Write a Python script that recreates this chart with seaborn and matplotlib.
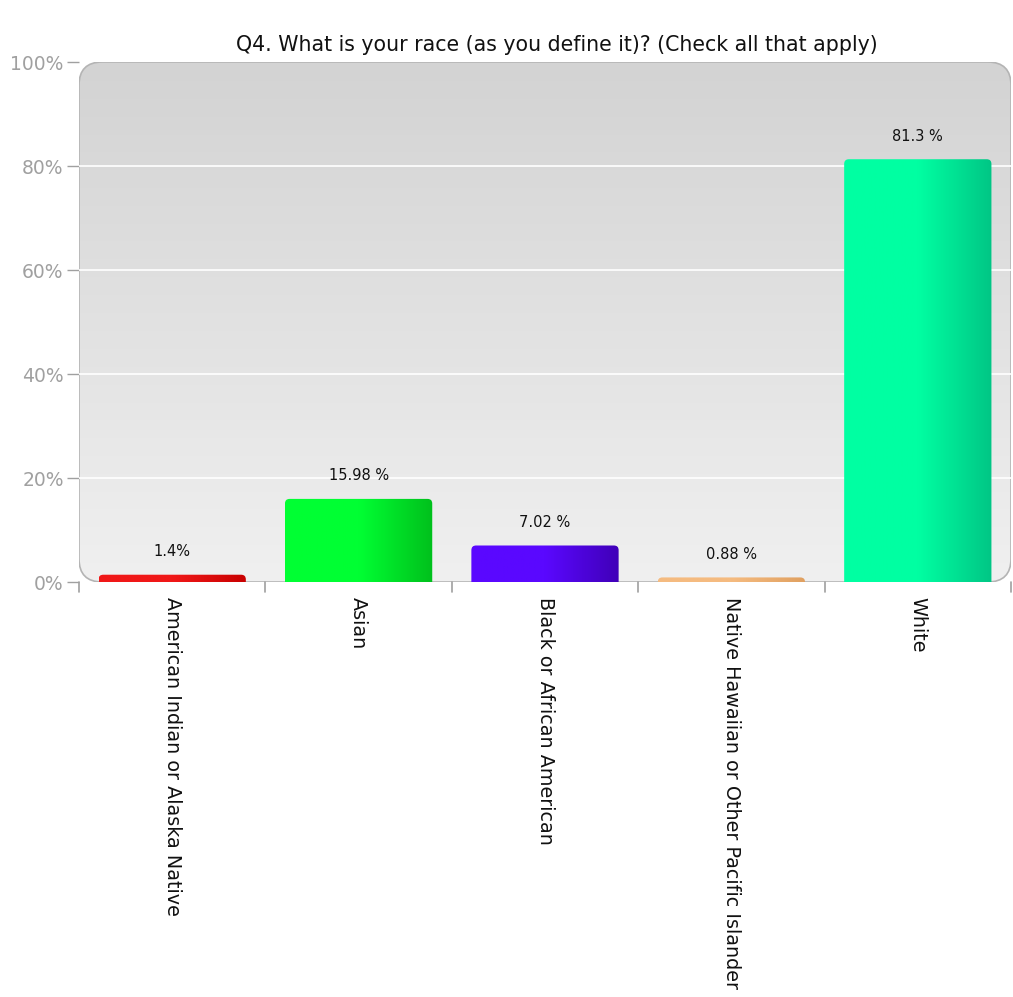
import numpy as np
import matplotlib
matplotlib.use("Agg")
import matplotlib.pyplot as plt
import seaborn as sns
from matplotlib.colors import LinearSegmentedColormap
from matplotlib.patches import FancyBboxPatch

categories = ["American Indian or Alaska Native", "Asian", "Black or African American",
              "Native Hawaiian or Other Pacific Islander", "White"]
values = [1.4, 15.98, 7.02, 0.88, 81.3]
value_labels = ["1.4%", "15.98 %", "7.02 %", "0.88 %", "81.3 %"]
bar_light = ["#f01818", "#00ff33", "#5a08ff", "#f5bb80", "#00ffa2"]
bar_dark = ["#c80000", "#00c01c", "#4000b8", "#e0a060", "#00c685"]
y_ticks = [0, 20, 40, 60, 80, 100]

sns.set_theme(style="white")
plt.rcParams["font.family"] = ["DejaVu Sans"]

fig = plt.figure(figsize=(10.13, 9.97), dpi=100)
ax = fig.add_axes([79 / 1013, 415 / 997, 932 / 1013, 520 / 997])
ax.set_facecolor("none")

sns.barplot(x=categories, y=values, ax=ax, width=0.79, color="white", saturation=1, zorder=3)
ax.set_xlim(-0.5, len(categories) - 0.5)
ax.set_ylim(0, 100)

# background gradient with rounded corners
bg = FancyBboxPatch((0, 0), 1, 1, boxstyle="round,pad=0,rounding_size=0.025",
                    transform=ax.transAxes, facecolor="none", edgecolor="none",
                    zorder=0, mutation_aspect=932 / 520)
ax.add_patch(bg)
grad = np.linspace(0, 1, 256).reshape(-1, 1)
bg_cmap = LinearSegmentedColormap.from_list("bg", ["#f0f0f0", "#d3d3d3"])
im = ax.imshow(grad, cmap=bg_cmap, aspect="auto", extent=[0, 1, 0, 1],
               transform=ax.transAxes, origin="lower", zorder=0)
im.set_clip_path(bg)
frame = FancyBboxPatch((0, 0), 1, 1, boxstyle="round,pad=0,rounding_size=0.025",
                       transform=ax.transAxes, facecolor="none", edgecolor="#b4b4b4",
                       linewidth=1.2, zorder=1, mutation_aspect=932 / 520)
ax.add_patch(frame)

for y in y_ticks[1:-1]:
    ax.axhline(y, color="white", linewidth=1.2, zorder=2)

# gradient fill per bar, rounded top corners
px_x = 932 / 5
px_y = 520 / 100
hgrad = np.linspace(0, 1, 256).reshape(1, -1)
for bar, c1, c2, lab in zip(list(ax.patches), bar_light, bar_dark, value_labels):
    x0, w, h = bar.get_x(), bar.get_width(), bar.get_height()
    hh = max(h, 0.8)
    bar.set_visible(False)
    shape = FancyBboxPatch((x0, -3), w, hh + 3, boxstyle="round,pad=0,rounding_size=0.025",
                           mutation_aspect=px_x / px_y,
                           facecolor="none", edgecolor="none", zorder=3)
    ax.add_patch(shape)
    cm = LinearSegmentedColormap.from_list("b", [c1, c1, c2])
    bim = ax.imshow(hgrad, cmap=cm, aspect="auto", extent=[x0, x0 + w, 0, hh],
                    origin="lower", zorder=4)
    bim.set_clip_path(shape)
    ax.text(x0 + w / 2, h + 3, lab, ha="center", va="bottom", fontsize=10.5,
            color="#111111", zorder=5)

ax.set_xlim(-0.5, len(categories) - 0.5)
ax.set_ylim(0, 100)

for s in ax.spines.values():
    s.set_visible(False)

ax.set_yticks(y_ticks)
ax.set_yticklabels([f"{t}%" for t in y_ticks], color="#a0a0a0", fontsize=13.5)
ax.tick_params(axis="y", left=True, length=9, color="#a0a0a0", width=1, pad=2)

ax.set_xticks(range(len(categories)))
ax.set_xticklabels(categories, rotation=270, fontsize=13.8, color="#111111", va="top", ha="center")
ax.tick_params(axis="x", bottom=False, pad=5)
for b in np.arange(-0.5, len(categories), 1.0):
    ax.plot([b, b], [0, -2], color="#a0a0a0", linewidth=1.2, clip_on=False, zorder=2)

ax.set_title("Q4. What is your race (as you define it)? (Check all that apply)",
             fontsize=14.8, color="#111111", pad=8, x=0.513)
ax.set_xlabel("")
ax.set_ylabel("")
ax.grid(False)

fig.savefig("out.png", dpi=100)
